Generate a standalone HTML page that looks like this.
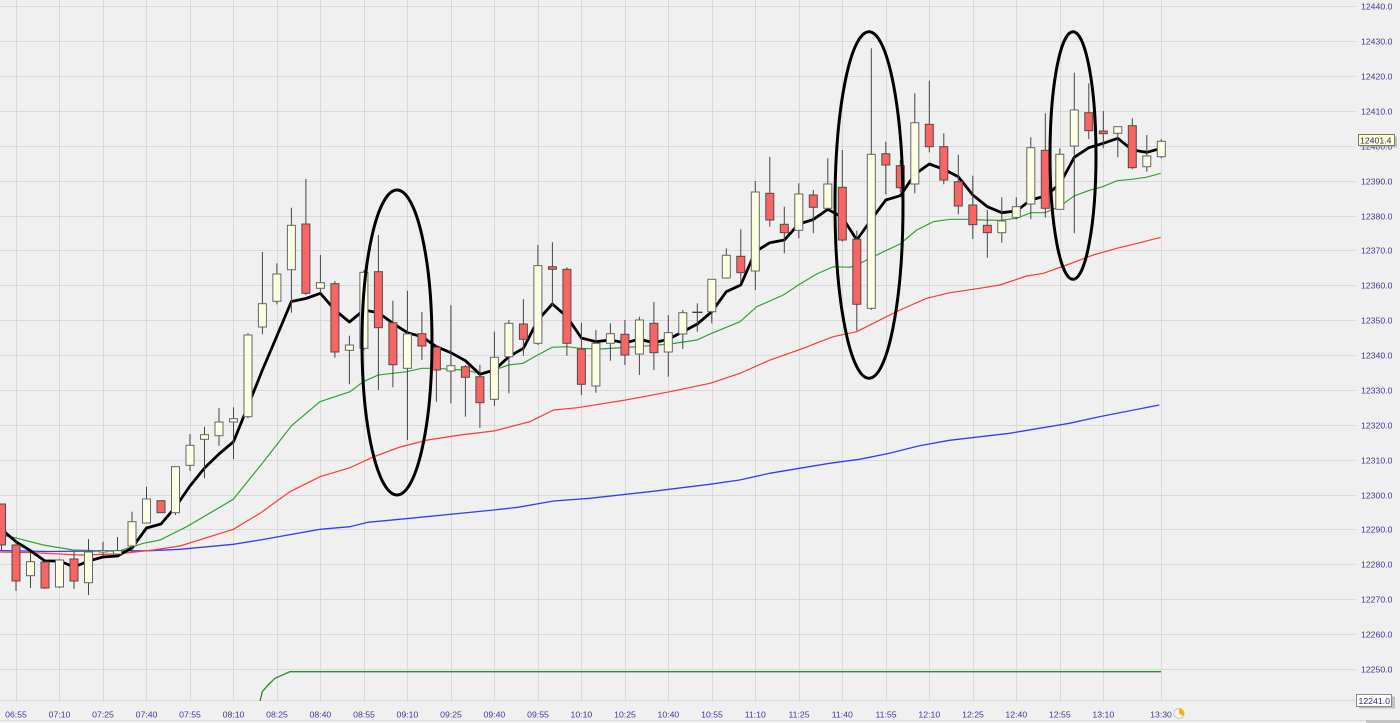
<!DOCTYPE html>
<html><head><meta charset="utf-8"><style>
html,body{margin:0;padding:0;background:#f0f0f0;}
svg{display:block;}
.g{stroke:#d9d9d9;stroke-width:1;}
.w{stroke:#454545;stroke-width:1;}
.r{fill:#f86565;stroke:#5a4848;stroke-width:1;}
.c{fill:#ffffe4;stroke:#666;stroke-width:1;}
.yl{font-family:"Liberation Sans",sans-serif;font-size:8.7px;fill:#3a3a9c;}
.tl{font-family:"Liberation Sans",sans-serif;font-size:8.7px;fill:#3a3a9c;text-anchor:middle;}
</style></head><body>
<svg width="1400" height="723" viewBox="0 0 1400 723" xmlns="http://www.w3.org/2000/svg">
<rect x="0" y="0" width="1400" height="723" fill="#f0f0f0"/>
<g class="g">
<line x1="0" y1="6.5" x2="1355" y2="6.5"/><line x1="0" y1="41.5" x2="1355" y2="41.5"/>
<line x1="0" y1="76.5" x2="1355" y2="76.5"/><line x1="0" y1="111.5" x2="1355" y2="111.5"/>
<line x1="0" y1="146.5" x2="1355" y2="146.5"/><line x1="0" y1="181.5" x2="1355" y2="181.5"/>
<line x1="0" y1="216.5" x2="1355" y2="216.5"/><line x1="0" y1="250.5" x2="1355" y2="250.5"/>
<line x1="0" y1="285.5" x2="1355" y2="285.5"/><line x1="0" y1="320.5" x2="1355" y2="320.5"/>
<line x1="0" y1="355.5" x2="1355" y2="355.5"/><line x1="0" y1="390.5" x2="1355" y2="390.5"/>
<line x1="0" y1="425.5" x2="1355" y2="425.5"/><line x1="0" y1="460.5" x2="1355" y2="460.5"/>
<line x1="0" y1="495.5" x2="1355" y2="495.5"/><line x1="0" y1="529.5" x2="1355" y2="529.5"/>
<line x1="0" y1="564.5" x2="1355" y2="564.5"/><line x1="0" y1="599.5" x2="1355" y2="599.5"/>
<line x1="0" y1="634.5" x2="1355" y2="634.5"/><line x1="0" y1="669.5" x2="1355" y2="669.5"/>
<line x1="0" y1="700.5" x2="1355" y2="700.5"/>
</g>
<g class="g">
<line x1="16.5" y1="0" x2="16.5" y2="700"/><line x1="59.5" y1="0" x2="59.5" y2="700"/>
<line x1="103.5" y1="0" x2="103.5" y2="700"/><line x1="146.5" y1="0" x2="146.5" y2="700"/>
<line x1="190.5" y1="0" x2="190.5" y2="700"/><line x1="233.5" y1="0" x2="233.5" y2="700"/>
<line x1="277.5" y1="0" x2="277.5" y2="700"/><line x1="320.5" y1="0" x2="320.5" y2="700"/>
<line x1="364.5" y1="0" x2="364.5" y2="700"/><line x1="407.5" y1="0" x2="407.5" y2="700"/>
<line x1="451.5" y1="0" x2="451.5" y2="700"/><line x1="494.5" y1="0" x2="494.5" y2="700"/>
<line x1="538.5" y1="0" x2="538.5" y2="700"/><line x1="581.5" y1="0" x2="581.5" y2="700"/>
<line x1="625.5" y1="0" x2="625.5" y2="700"/><line x1="668.5" y1="0" x2="668.5" y2="700"/>
<line x1="712.5" y1="0" x2="712.5" y2="700"/><line x1="755.5" y1="0" x2="755.5" y2="700"/>
<line x1="799.5" y1="0" x2="799.5" y2="700"/><line x1="842.5" y1="0" x2="842.5" y2="700"/>
<line x1="886.5" y1="0" x2="886.5" y2="700"/><line x1="929.5" y1="0" x2="929.5" y2="700"/>
<line x1="973.5" y1="0" x2="973.5" y2="700"/><line x1="1016.5" y1="0" x2="1016.5" y2="700"/>
<line x1="1060.5" y1="0" x2="1060.5" y2="700"/><line x1="1103.5" y1="0" x2="1103.5" y2="700"/>
<line x1="1161.5" y1="0" x2="1161.5" y2="700"/>
</g>

<polyline fill="none" stroke="#3a3aff" stroke-width="1.3" points="0,550.5 46.7,551.5 100,551 150,550.7 180,549.3 233.3,544.3 260,540 320,529.3 350,526.7 367.9,522.3 409.9,518.3 493.8,510 517.8,507.3 553.7,501 589.7,498.3 649.7,491.7 709.6,484.3 739.6,480 769.6,473.3 829.5,463.3 859.5,459.3 889.5,453.3 919.4,445.7 949.4,440.3 1009.4,433.3 1069.3,423.3 1099.3,416.7 1159.3,405"/>
<polyline fill="none" stroke="#ff3a3a" stroke-width="1.2" points="0,552 33.3,552.7 80,555 116.7,554 153.3,550 180,546 233.3,529.3 260,513.3 290,491.7 320,476.7 350,467.7 373.9,456.7 400,447 427.8,440 460,435 493.8,431 529.8,421.7 553.7,410 577.7,407.7 625.7,400 670,391.7 710,383.3 740,373.3 770,360 803.3,348.3 820,341.7 833.3,336.7 856.7,331.7 873.3,323.3 900,310 926.7,298.3 950,292.7 973.3,289.3 1000,285 1026.7,276 1043.3,273.3 1066.7,265 1093.3,255 1116.7,248.3 1140,242.7 1160.7,237.3"/>
<polyline fill="none" stroke="#35a035" stroke-width="1.2" points="0,535 13.3,537.3 43.3,545 73.3,550 100,550.7 120,550.7 143.3,543.3 160,540 186.7,526.7 233.3,499.3 263.3,462 291.7,425.5 320,401.7 350,391.7 363.3,381.7 378.3,375 406.7,371.7 421.7,368.3 436.7,368.3 450.7,369.3 465,370 479.3,373.3 494,370 508.7,365 523,363.3 537.7,355 552,347.3 566.7,346.7 580,348.3 600,349 636.7,346.7 670,344 696.7,340 711.7,333.3 740,321.7 756.7,306.7 783.3,295 800,284 816.7,274 833.3,266.7 850,267.3 860,263.3 876.7,255 900,244 916.7,230 933.3,221.7 950,219.3 966.7,219.3 983.3,220 1000,220.3 1016.7,218.3 1030.7,212.7 1045,212.7 1059.3,206.7 1074,196 1088.3,190.7 1102.7,186.7 1117.3,180.7 1131.7,179.3 1146,177.3 1160.7,173.3"/>
<polyline fill="none" stroke="#000" stroke-width="2.8" stroke-linejoin="round" points="0,528 16,541.7 30.5,550.7 45,561 59.5,561 74,567 88.5,561 103,557 117.5,556 132,548 146.5,528 161,524 175.5,507 190,486 204.5,468 219,454 233.5,441.7 248,406 262.4,370 276.9,336 291.4,301.5 305.9,298.5 320.4,293.3 334.9,310 349.4,322 363.9,310 378.4,312.7 392.9,323.3 407.4,332.7 421.9,336.7 436.4,346.7 450.9,352.7 465.4,360.7 479.9,374.3 494.4,370 508.9,356.7 523.4,348.3 537.9,320 552.4,304 566.9,316.7 581.4,338 595.9,341.7 610.4,340 624.9,342.7 639.4,339.3 653.9,342.7 668.3,339.3 682.8,331.7 697.3,324 711.8,311.7 726.3,291.7 740.8,285 755.3,251.7 769.8,242.7 784.3,240 798.8,224 813.3,219.5 827.8,209.3 842.3,217.3 856.8,240 871.3,219.5 885.8,200 900.3,195.7 914.8,174.3 929.3,164 943.8,169.3 958.3,176.7 972.8,195 987.3,206.7 1001.8,212.7 1016.3,211 1030.8,200 1045.3,196 1059.8,184 1074.3,157.3 1088.8,147.7 1103.3,143.3 1117.8,138.3 1132.3,150 1146.8,152.3 1161.3,148.3"/>
<polyline fill="none" stroke="#2a8a2a" stroke-width="1.3" points="260,701 262.3,691.7 268,685 275,678.3 290,671.7 1161,671.7"/>

<g class="w">
<line x1="1.5" y1="504" x2="1.5" y2="550"/><line x1="16" y1="541" x2="16" y2="591"/>
<line x1="30.5" y1="552.7" x2="30.5" y2="588"/><line x1="45" y1="562" x2="45" y2="589"/>
<line x1="59.5" y1="559" x2="59.5" y2="588"/><line x1="74" y1="551.7" x2="74" y2="589"/>
<line x1="88.5" y1="539" x2="88.5" y2="595"/><line x1="103" y1="541.7" x2="103" y2="556"/>
<line x1="117.5" y1="537" x2="117.5" y2="555"/><line x1="132" y1="511.7" x2="132" y2="551.7"/>
<line x1="146.5" y1="486.7" x2="146.5" y2="523"/><line x1="161" y1="500.7" x2="161" y2="512.7"/>
<line x1="175.5" y1="466.7" x2="175.5" y2="515"/><line x1="190" y1="434" x2="190" y2="471"/>
<line x1="204.5" y1="426.7" x2="204.5" y2="478.3"/><line x1="219" y1="408" x2="219" y2="445.7"/>
<line x1="233.5" y1="407.3" x2="233.5" y2="459.3"/><line x1="248" y1="333.3" x2="248" y2="418.3"/>
<line x1="262.4" y1="252" x2="262.4" y2="334.3"/><line x1="276.9" y1="263.3" x2="276.9" y2="304.3"/>
<line x1="291.4" y1="207.7" x2="291.4" y2="312.7"/><line x1="305.9" y1="179" x2="305.9" y2="295"/>
<line x1="320.4" y1="255" x2="320.4" y2="293.3"/><line x1="334.9" y1="281" x2="334.9" y2="357.7"/>
<line x1="349.4" y1="335.7" x2="349.4" y2="384.3"/><line x1="363.9" y1="270" x2="363.9" y2="350"/>
<line x1="378.4" y1="235" x2="378.4" y2="390"/><line x1="392.9" y1="300.7" x2="392.9" y2="387.3"/>
<line x1="407.4" y1="290.7" x2="407.4" y2="440"/><line x1="421.9" y1="312" x2="421.9" y2="360"/>
<line x1="436.4" y1="345" x2="436.4" y2="401.7"/><line x1="450.9" y1="305.3" x2="450.9" y2="403.3"/>
<line x1="465.4" y1="365" x2="465.4" y2="416.7"/><line x1="479.9" y1="364.7" x2="479.9" y2="428"/>
<line x1="494.4" y1="331.7" x2="494.4" y2="406"/><line x1="508.9" y1="320" x2="508.9" y2="393.3"/>
<line x1="523.4" y1="299.3" x2="523.4" y2="355.7"/><line x1="537.9" y1="245" x2="537.9" y2="345"/>
<line x1="552.4" y1="242.3" x2="552.4" y2="306"/><line x1="566.9" y1="267.3" x2="566.9" y2="355.7"/>
<line x1="581.4" y1="322.7" x2="581.4" y2="395"/><line x1="595.9" y1="330" x2="595.9" y2="392.7"/>
<line x1="610.4" y1="323.3" x2="610.4" y2="360.7"/><line x1="624.9" y1="320" x2="624.9" y2="365"/>
<line x1="639.4" y1="316.7" x2="639.4" y2="375"/><line x1="653.9" y1="302" x2="653.9" y2="370"/>
<line x1="668.3" y1="315" x2="668.3" y2="376.7"/><line x1="682.8" y1="310" x2="682.8" y2="349"/>
<line x1="697.3" y1="303.3" x2="697.3" y2="331.7"/><line x1="711.8" y1="279.3" x2="711.8" y2="323.3"/>
<line x1="726.3" y1="248.3" x2="726.3" y2="278"/><line x1="740.8" y1="229.3" x2="740.8" y2="281.7"/>
<line x1="755.3" y1="181" x2="755.3" y2="290"/><line x1="769.8" y1="157" x2="769.8" y2="226.7"/>
<line x1="784.3" y1="206.7" x2="784.3" y2="253.3"/><line x1="798.8" y1="183.3" x2="798.8" y2="238.3"/>
<line x1="813.3" y1="190" x2="813.3" y2="233.3"/><line x1="827.8" y1="158.3" x2="827.8" y2="208.3"/>
<line x1="842.3" y1="150" x2="842.3" y2="241.7"/><line x1="856.8" y1="230.7" x2="856.8" y2="330.7"/>
<line x1="871.3" y1="48.3" x2="871.3" y2="310"/><line x1="885.8" y1="141.7" x2="885.8" y2="194.3"/>
<line x1="900.3" y1="160" x2="900.3" y2="192"/><line x1="914.8" y1="93.3" x2="914.8" y2="193.3"/>
<line x1="929.3" y1="80.7" x2="929.3" y2="152.3"/><line x1="943.8" y1="133.3" x2="943.8" y2="184.3"/>
<line x1="958.3" y1="154.7" x2="958.3" y2="214.3"/><line x1="972.8" y1="175.7" x2="972.8" y2="239"/>
<line x1="987.3" y1="210" x2="987.3" y2="257.7"/><line x1="1001.8" y1="197.3" x2="1001.8" y2="242.7"/>
<line x1="1016.3" y1="197.3" x2="1016.3" y2="219.3"/><line x1="1030.8" y1="137.3" x2="1030.8" y2="219.3"/>
<line x1="1045.3" y1="113.3" x2="1045.3" y2="217.7"/><line x1="1059.8" y1="148.3" x2="1059.8" y2="209.3"/>
<line x1="1074.3" y1="72.7" x2="1074.3" y2="233.3"/><line x1="1088.8" y1="83.3" x2="1088.8" y2="139"/>
<line x1="1103.3" y1="111" x2="1103.3" y2="148.3"/><line x1="1117.8" y1="126.7" x2="1117.8" y2="157.3"/>
<line x1="1132.3" y1="118.3" x2="1132.3" y2="169.3"/><line x1="1146.8" y1="135" x2="1146.8" y2="171.7"/>
<line x1="1161.3" y1="139" x2="1161.3" y2="158.3"/>
</g>
<g>
<rect class="r" x="-2.5" y="504" width="8" height="41"/>
<rect class="r" x="12" y="545" width="8" height="36"/>
<rect class="c" x="26.5" y="561.7" width="8" height="14"/>
<rect class="r" x="41" y="562" width="8" height="26"/>
<rect class="c" x="55.5" y="560" width="8" height="27"/>
<rect class="r" x="70" y="559" width="8" height="22"/>
<rect class="c" x="84.5" y="552" width="8" height="30.7"/>
<rect class="c" x="99" y="550.5" width="8" height="1.5"/>
<rect class="c" x="113.5" y="550.7" width="8" height="3.3"/>
<rect class="c" x="128" y="521.7" width="8" height="24.3"/>
<rect class="c" x="142.5" y="499" width="8" height="24"/>
<rect class="r" x="157" y="500.7" width="8" height="12"/>
<rect class="c" x="171.5" y="466.7" width="8" height="46"/>
<rect class="c" x="186" y="445.3" width="8" height="20"/>
<rect class="c" x="200.5" y="434.7" width="8" height="4.6"/>
<rect class="c" x="215" y="422" width="8" height="13.7"/>
<rect class="c" x="229.5" y="418.7" width="8" height="3.3"/>
<rect class="c" x="244" y="335" width="8" height="81.7"/>
<rect class="c" x="258.4" y="303.7" width="8" height="23.3"/>
<rect class="c" x="272.9" y="274" width="8" height="27.3"/>
<rect class="c" x="287.4" y="225.3" width="8" height="44.4"/>
<rect class="r" x="301.9" y="224" width="8" height="69.3"/>
<rect class="c" x="316.4" y="282.7" width="8" height="5.6"/>
<rect class="r" x="330.9" y="283.7" width="8" height="68.3"/>
<rect class="c" x="345.4" y="345" width="8" height="5.3"/>
<rect class="c" x="359.9" y="272.3" width="8" height="76"/>
<rect class="r" x="374.4" y="271.7" width="8" height="56"/>
<rect class="r" x="388.9" y="322.7" width="8" height="42"/>
<rect class="c" x="403.4" y="334" width="8" height="34.3"/>
<rect class="r" x="417.9" y="333.7" width="8" height="12.3"/>
<rect class="r" x="432.4" y="347.3" width="8" height="22.7"/>
<rect class="c" x="446.9" y="365.7" width="8" height="5.3"/>
<rect class="r" x="461.4" y="366.7" width="8" height="10.6"/>
<rect class="r" x="475.9" y="376.7" width="8" height="26"/>
<rect class="c" x="490.4" y="357.3" width="8" height="42"/>
<rect class="c" x="504.9" y="323.3" width="8" height="33.4"/>
<rect class="r" x="519.4" y="324" width="8" height="15.3"/>
<rect class="c" x="533.9" y="265.7" width="8" height="77.6"/>
<rect class="r" x="548.4" y="266.7" width="8" height="2.6"/>
<rect class="r" x="562.9" y="269.3" width="8" height="74"/>
<rect class="r" x="577.4" y="349" width="8" height="35.3"/>
<rect class="c" x="591.9" y="343.3" width="8" height="42.7"/>
<rect class="c" x="606.4" y="333.7" width="8" height="9.6"/>
<rect class="r" x="620.9" y="334.3" width="8" height="20.7"/>
<rect class="c" x="635.4" y="320" width="8" height="34"/>
<rect class="r" x="649.9" y="323.3" width="8" height="29.4"/>
<rect class="c" x="664.3" y="332.7" width="8" height="19.3"/>
<rect class="c" x="678.8" y="312.7" width="8" height="21.3"/>
<line x1="692.3" y1="312.3" x2="702.3" y2="312.3" stroke="#333" stroke-width="1.3"/>
<rect class="c" x="707.8" y="279.3" width="8" height="32.4"/>
<rect class="c" x="722.3" y="255.3" width="8" height="22.7"/>
<rect class="r" x="736.8" y="256.3" width="8" height="16.4"/>
<rect class="c" x="751.3" y="192" width="8" height="79"/>
<rect class="r" x="765.8" y="193.3" width="8" height="26.7"/>
<rect class="r" x="780.3" y="224.3" width="8" height="8.4"/>
<rect class="c" x="794.8" y="194" width="8" height="36.3"/>
<rect class="r" x="809.3" y="195" width="8" height="12.3"/>
<rect class="c" x="823.8" y="184" width="8" height="24.3"/>
<rect class="r" x="838.3" y="187.3" width="8" height="52.7"/>
<rect class="r" x="852.8" y="239.3" width="8" height="65"/>
<rect class="c" x="867.3" y="154.3" width="8" height="154"/>
<rect class="r" x="881.8" y="153.7" width="8" height="11.3"/>
<rect class="r" x="896.3" y="165.7" width="8" height="22"/>
<rect class="c" x="910.8" y="122.7" width="8" height="61.3"/>
<rect class="r" x="925.3" y="124.3" width="8" height="22.4"/>
<rect class="r" x="939.8" y="146.7" width="8" height="33.3"/>
<rect class="r" x="954.3" y="181.7" width="8" height="24.3"/>
<rect class="r" x="968.8" y="205" width="8" height="19.7"/>
<rect class="r" x="983.3" y="225.3" width="8" height="7.4"/>
<rect class="c" x="997.8" y="221" width="8" height="11.7"/>
<rect class="c" x="1012.3" y="206.7" width="8" height="10.6"/>
<rect class="c" x="1026.8" y="147.7" width="8" height="56.3"/>
<rect class="r" x="1041.3" y="150.3" width="8" height="58"/>
<rect class="c" x="1055.8" y="154.3" width="8" height="55"/>
<rect class="c" x="1070.3" y="110" width="8" height="36"/>
<rect class="r" x="1084.8" y="112.7" width="8" height="18"/>
<rect class="r" x="1099.3" y="131" width="8" height="2.7"/>
<rect class="c" x="1113.8" y="126.7" width="8" height="6.6"/>
<rect class="r" x="1128.3" y="125.7" width="8" height="42"/>
<rect class="c" x="1142.8" y="156" width="8" height="10.7"/>
<rect class="c" x="1157.3" y="141.3" width="8" height="15.4"/>
</g>

<g fill="none" stroke="#000" stroke-width="3">
<ellipse cx="397" cy="342.5" rx="35" ry="152.5"/>
<ellipse cx="869" cy="205" rx="34" ry="173.3"/>
<ellipse cx="1073" cy="155.5" rx="23" ry="123.8"/>
</g>

<g class="yl">
<text x="1361" y="9.7">12440.0</text><text x="1361" y="44.7">12430.0</text>
<text x="1361" y="79.7">12420.0</text><text x="1361" y="114.7">12410.0</text>
<text x="1361" y="149.7">12400.0</text><text x="1361" y="184.7">12390.0</text>
<text x="1361" y="219.7">12380.0</text><text x="1361" y="253.7">12370.0</text>
<text x="1361" y="288.7">12360.0</text><text x="1361" y="323.7">12350.0</text>
<text x="1361" y="358.7">12340.0</text><text x="1361" y="393.7">12330.0</text>
<text x="1361" y="428.7">12320.0</text><text x="1361" y="463.7">12310.0</text>
<text x="1361" y="498.7">12300.0</text><text x="1361" y="532.7">12290.0</text>
<text x="1361" y="567.7">12280.0</text><text x="1361" y="602.7">12270.0</text>
<text x="1361" y="637.7">12260.0</text><text x="1361" y="672.7">12250.0</text>
</g>
<rect x="1360" y="136.5" width="37" height="11" fill="#a0a0a0" opacity="0.6"/>
<rect x="1358.5" y="134.5" width="36" height="11" fill="#ffffc8" stroke="#777" stroke-width="1"/>
<text x="1360" y="143.5" class="yl" style="fill:#2a2a8a">12401.4</text>
<rect x="1359" y="696.5" width="36" height="12" fill="#a0a0a0" opacity="0.6"/>
<rect x="1356.5" y="694.5" width="35" height="12" fill="#ffffff" stroke="#888" stroke-width="1"/>
<text x="1358.5" y="703.8" class="yl" style="fill:#2a2a8a">12241.0</text>

<g class="tl">
<text x="16" y="717.5">06:55</text><text x="59.5" y="717.5">07:10</text>
<text x="103" y="717.5">07:25</text><text x="146.5" y="717.5">07:40</text>
<text x="190" y="717.5">07:55</text><text x="233.5" y="717.5">08:10</text>
<text x="277" y="717.5">08:25</text><text x="320.4" y="717.5">08:40</text>
<text x="364" y="717.5">08:55</text><text x="407.4" y="717.5">09:10</text>
<text x="451" y="717.5">09:25</text><text x="494.4" y="717.5">09:40</text>
<text x="538" y="717.5">09:55</text><text x="581.4" y="717.5">10:10</text>
<text x="625" y="717.5">10:25</text><text x="668.4" y="717.5">10:40</text>
<text x="712" y="717.5">10:55</text><text x="755.3" y="717.5">11:10</text>
<text x="799" y="717.5">11:25</text><text x="842.3" y="717.5">11:40</text>
<text x="886" y="717.5">11:55</text><text x="929.3" y="717.5">12:10</text>
<text x="973" y="717.5">12:25</text><text x="1016.3" y="717.5">12:40</text>
<text x="1059.8" y="717.5">12:55</text><text x="1103.3" y="717.5">13:10</text>
<text x="1161" y="717.5">13:30</text>
</g>
<circle cx="1179" cy="713.5" r="5" fill="#f4f4f4" stroke="#c8c8c8" stroke-width="1"/>
<path d="M1179,713.5 L1179,708.5 A5,5 0 0,1 1183.3,716 Z" fill="#f5b400"/>
<rect x="0" y="720" width="1366" height="1" fill="#dcdcdc"/>
<rect x="1366" y="720" width="34" height="3" fill="#c4c4c4"/>
</svg>
</body></html>
